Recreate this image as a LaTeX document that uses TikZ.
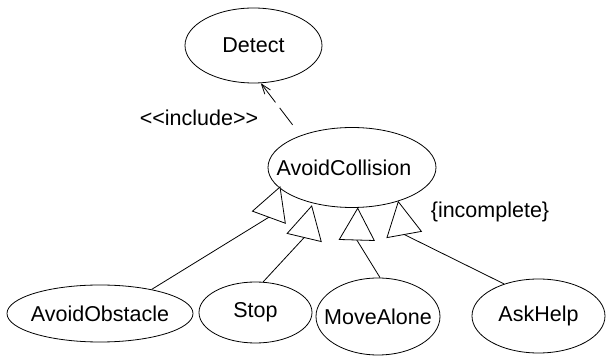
\documentclass[tikz,border=0pt]{standalone}
\usepackage{fontspec}
\setmainfont{Liberation Sans}
\usetikzlibrary{shapes.geometric,arrows.meta,calc}
\newcommand{\uctext}[2][0pt]{\makebox[0pt]{\hspace*{#1}#2}}
\begin{document}
\begin{tikzpicture}[x=1pt,y=-1pt,
  every node/.style={font=\fontsize{21.5}{24}\selectfont},
  uc/.style={draw, ellipse, inner sep=0pt, line width=0.8pt},
  gen/.style={draw, fill=white, line width=0.8pt, line join=miter},
  conn/.style={line width=0.8pt},
  incl/.style={line width=0.8pt,
    dash pattern={on 0pt off 13.4pt on 21.2pt off 7pt on 40pt},
    -{Straight Barb[length=10pt,width=7pt]}}]
\useasboundingbox (0,0) rectangle (606,358);
% use cases
\node[uc, minimum width=137pt, minimum height=75pt] (det) at (253.5,45.5) {\uctext{Detect}};
\node[uc, minimum width=168pt, minimum height=80pt] (ac) at (352,167.5) {\uctext[-16pt]{AvoidCollision}};
\node[uc, minimum width=186pt, minimum height=57pt] (ao) at (100,313.5) {\uctext{AvoidObstacle}};
\node[uc, minimum width=113pt, minimum height=61pt] (st) at (255.5,312.5) {\uctext{Stop}};
\node[uc, minimum width=124pt, minimum height=77pt] (ma) at (378,316.5) {\uctext{MoveAlone}};
\node[uc, minimum width=133pt, minimum height=74pt] (ah) at (538.5,316) {\uctext{AskHelp}};
% labels
\node (inc) at (199,118) {<{}<include>{}>};
\node (incpl) at (490,212) {\{incomplete\}};
% include relation
\draw[incl] (ac.148) -- (det.-79);
% generalization triangles
\coordinate (a1) at (280,187);     \coordinate (m1) at (268.9,217.2);
\coordinate (a2) at (311.7,206);   \coordinate (m2) at (304.2,237.5);
\coordinate (a3) at (357.7,208.3); \coordinate (m3) at (356.8,240);
\coordinate (a4) at (398.3,201.7); \coordinate (m4) at (404.2,234.5);
\draw[conn] (ao.25) -- (m1);
\draw[conn] (st.76) -- (m2);
\draw[conn] (ma.87) -- (m3);
\draw[conn] (ah.137) -- (m4);
\foreach \i in {1,...,4}
  \draw[gen] (a\i) -- ($(m\i)!17.5pt!90:(a\i)$) -- ($(m\i)!17.5pt!-90:(a\i)$) -- cycle;
\end{tikzpicture}
\end{document}
